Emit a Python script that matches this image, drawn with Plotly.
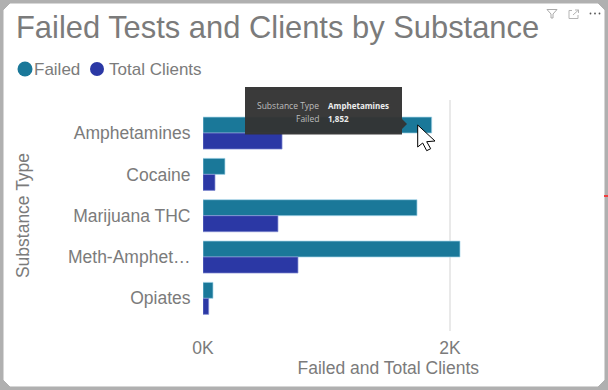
import plotly.graph_objects as go

categories = ["Amphetamines", "Cocaine", "Marijuana THC", "Meth-Amphet…", "Opiates"]
failed = [1852, 178, 1733, 2081, 81]
total_clients = [640, 97, 607, 769, 46]
tick_values = [0, 2000]
tick_labels = ["0K", "2K"]

W, H = 608, 390
TEAL, BLUE = "#1a7899", "#2b38a5"
GREY = "#7b7b7b"
FONT = "Liberation Sans"


def px(x):
    return x / W


def py(y):
    return 1 - y / H


def path(points, close=True):
    d = "M" + " L".join(f"{px(x):.5f},{py(y):.5f}" for x, y in points)
    return d + (" Z" if close else "")


def shape_rect(x0, y0, x1, y1, fill, layer="below", line=None, width=0):
    return dict(type="rect", xref="paper", yref="paper", x0=px(x0), x1=px(x1), y0=py(y0), y1=py(y1),
                fillcolor=fill, line=dict(color=line or fill, width=width), layer=layer)


def shape_path(points, fill="rgba(0,0,0,0)", line="rgba(0,0,0,0)", width=1, close=True, layer="above"):
    return dict(type="path", xref="paper", yref="paper", path=path(points, close), fillcolor=fill,
                line=dict(color=line, width=width), layer=layer)


def circle(cx, cy, r, fill):
    return dict(type="circle", xref="paper", yref="paper", x0=px(cx - r), x1=px(cx + r), y0=py(cy + r), y1=py(cy - r),
                fillcolor=fill, line=dict(width=0), layer="above")


def label(x, y, text, size, color=GREY, anchor="left", family=FONT):
    return dict(xref="paper", yref="paper", x=px(x), y=py(y), text=text, showarrow=False, xanchor=anchor,
                yanchor="middle", xshift=0, font=dict(family=family, size=size, color=color))


fig = go.Figure()
fig.add_bar(y=categories, x=failed, name="Failed", orientation="h",
            marker=dict(color=TEAL, line=dict(color="rgba(170,215,235,0.7)", width=1)))
fig.add_bar(y=categories, x=total_clients, name="Total Clients", orientation="h",
            marker=dict(color=BLUE, line=dict(color="rgba(130,140,210,0.7)", width=1)))

# rounded card corners
r = 6
card = [(4 + r, 4), (604 - r, 4), (604, 4 + r), (604, 386 - r), (604 - r, 386), (4 + r, 386), (4, 386 - r), (4, 4 + r)]

shapes = [
    shape_path(card, fill="white", line="white", layer="below"),
    shape_rect(604, 195, 608, 197, "#f04040", layer="above"),
    # legend dots
    circle(25, 69, 7.5, TEAL),
    circle(97, 69, 7, BLUE),
    # tooltip
    shape_rect(245, 87, 402, 134.5, "rgba(52,52,52,0.97)", layer="above"),
    shape_path([(402, 119), (407, 124), (402, 129)], fill="rgba(52,52,52,0.97)"),
    # cursor
    shape_path([(417.7, 125), (417.7, 147), (422.7, 143), (426.7, 150.7), (430.7, 148.7), (426.7, 141.7), (435, 141)],
               fill="white", line="black", width=1),
    # filter icon
    shape_path([(547, 9.5), (557, 9.5), (553, 14), (553, 18), (551, 18), (551, 14)], line="#aaaaaa"),
    # expand icon
    shape_path([(572, 10.5), (569, 10.5), (569, 18.5), (578, 18.5), (578, 15)], line="#b5b5b5", close=False),
    shape_path([(573, 15), (578.5, 10)], line="#b5b5b5", close=False),
    shape_path([(575, 10), (578.5, 10), (578.5, 13)], line="#b5b5b5", close=False),
    # more dots
    circle(590.5, 13.5, 0.9, "#555555"),
    circle(595, 13.5, 0.9, "#555555"),
    circle(599.5, 13.5, 0.9, "#555555"),
]

annotations = [
    label(32, 69, "Failed", 17),
    label(106.5, 69, "Total Clients", 17),
    label(321, 105.5, "Substance Type", 8.5, "#bdbdbd", "right", "Open Sans"),
    label(321, 118, "Failed", 8.5, "#bdbdbd", "right", "Open Sans"),
    label(326, 105.5, "<b>Amphetamines</b>", 8, "#eeeeee", "left", "Open Sans"),
    label(326, 118, "<b>1,852</b>", 8, "#eeeeee", "left", "Open Sans"),
]

fig.update_layout(
    template="none",
    width=W, height=H, margin=dict(l=0, r=0, t=0, b=0, pad=0), autosize=False,
    paper_bgcolor="#b0b0b0", plot_bgcolor="rgba(0,0,0,0)",
    font=dict(family=FONT, color=GREY),
    barmode="group", bargap=0.225, bargroupgap=0, showlegend=False,
    title=dict(text="Failed Tests and Clients by Substance", x=px(16), y=py(27), xanchor="left", yanchor="middle",
               xref="paper", yref="paper", automargin=False, font=dict(family=FONT, size=30.9, color=GREY)),
    shapes=shapes, annotations=annotations,
    xaxis=dict(domain=[px(203), px(573.5)], range=[0, 3000], tickvals=tick_values, ticktext=tick_labels,
               automargin=False, tickfont=dict(size=17.5, color=GREY), showgrid=True, gridcolor="#e9e9e9",
               gridwidth=2, zeroline=False, showline=False, ticks="outside", ticklen=1,
               tickcolor="rgba(0,0,0,0)",
               title=dict(text="Failed and Total Clients", standoff=4, font=dict(size=17.5, color=GREY))),
    yaxis=dict(domain=[py(331), py(100)], range=[4.79, -0.8], type="category", categoryorder="array",
               categoryarray=categories, automargin=False, tickfont=dict(size=17.5, color=GREY), showgrid=False,
               zeroline=False, ticks="outside", ticklen=8, tickcolor="rgba(0,0,0,0)",
               title=dict(text="Substance Type", standoff=33, font=dict(size=17.5, color=GREY))),
    hovermode=False,
)
fig.write_html("out.html", config=dict(displayModeBar=False),
               post_script="document.body.style.margin='0';document.body.style.overflow='hidden';")
